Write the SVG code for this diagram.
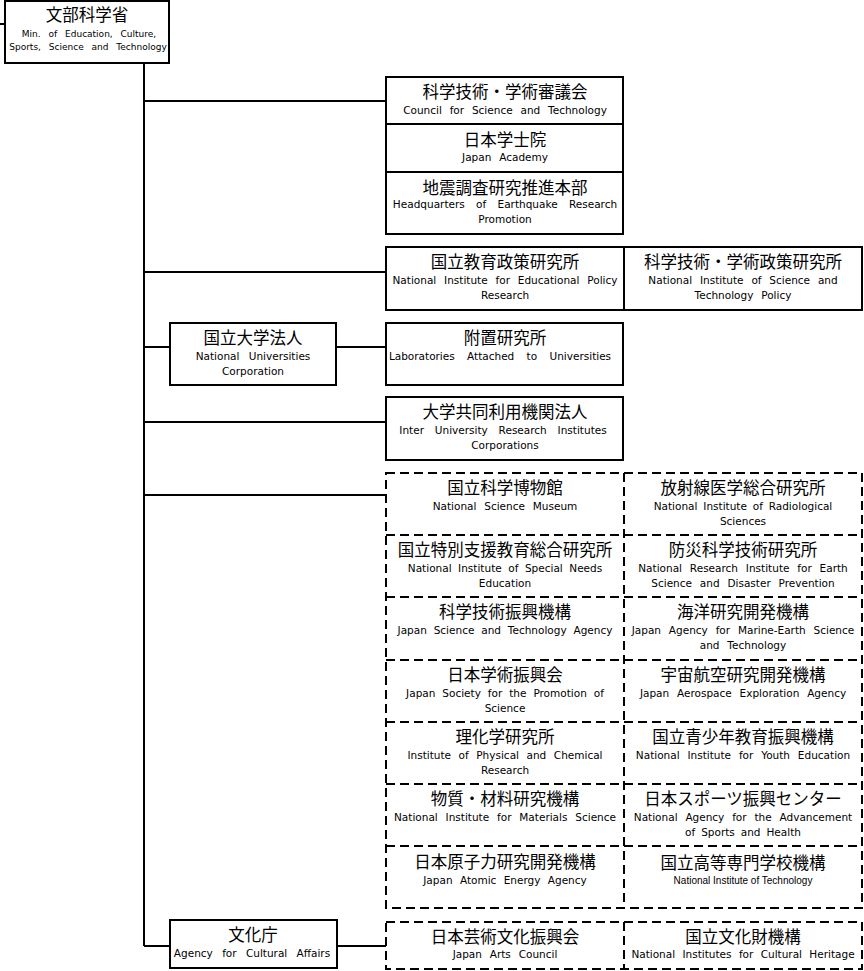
<svg xmlns="http://www.w3.org/2000/svg" width="864" height="971" viewBox="0 0 864 971">
<style>
.box{fill:#fff;stroke:#000;stroke-width:2}
.ln{fill:none;stroke:#000;stroke-width:2}
.dash{fill:none;stroke:#000;stroke-width:2;stroke-dasharray:9 5}
.t{font-family:"Noto Sans CJK JP","Noto Sans CJK SC",sans-serif;font-size:16.5px;text-anchor:middle;fill:#000}
.s{font-family:"DejaVu Sans","Liberation Sans",sans-serif;font-size:10.5px;text-anchor:middle;fill:#000;word-spacing:4.5px}
.s9{font-family:"DejaVu Sans","Liberation Sans",sans-serif;font-size:9px;text-anchor:middle;fill:#000;word-spacing:5px}
.sm{font-family:"Liberation Sans",Arial,sans-serif;font-size:10px;text-anchor:middle;fill:#000}
</style>
<rect width="864" height="971" fill="#fff"/>
<g id="connectors">
<path class="ln" d="M0,24H5"/>
<path class="ln" d="M144,63V946"/>
<path class="ln" d="M144,101H386"/>
<path class="ln" d="M144,272H386"/>
<path class="ln" d="M144,347H170M336,347H386"/>
<path class="ln" d="M144,422H386"/>
<path class="ln" d="M144,495H386"/>
<path class="ln" d="M144,946H170M337,946H386"/>
</g>
<g id="dashed-frame">
<rect class="dash" x="386" y="473" width="476" height="435"/>
<path class="dash" d="M386,535H862M386,597H862M386,660H862M386,722H862M386,784H862M386,846H862M624,473V908"/>
<rect class="dash" x="386" y="922" width="476" height="47"/>
<path class="dash" d="M624,922V969"/>
</g>
<g id="mext">
<rect class="box" x="5" y="1" width="164" height="62"/>
<text class="t" x="87" y="21">文部科学省</text>
<text class="s9" x="89" y="37">Min. of Education, Culture,</text>
<text class="s9" x="88" y="50">Sports, Science and Technology</text>
</g>
<g id="council">
<rect class="box" x="386" y="77" width="237" height="47"/>
<text class="t" x="505" y="98">科学技術・学術審議会</text>
<text class="s" x="505" y="114">Council for Science and Technology</text>
</g>
<g id="academy">
<rect class="box" x="386" y="124" width="237" height="48"/>
<text class="t" x="505" y="146">日本学士院</text>
<text class="s" x="505" y="161">Japan Academy</text>
</g>
<g id="earthquake">
<rect class="box" x="386" y="172" width="237" height="62"/>
<text class="t" x="505" y="194">地震調査研究推進本部</text>
<text class="s" x="505" y="208" style="word-spacing:8px">Headquarters of Earthquake Research</text>
<text class="s" x="505" y="223">Promotion</text>
</g>
<g id="nier">
<rect class="box" x="386" y="247" width="238" height="63"/>
<text class="t" x="505" y="268">国立教育政策研究所</text>
<text class="s" x="505" y="284">National Institute for Educational Policy</text>
<text class="s" x="505" y="299">Research</text>
</g>
<g id="nistep">
<rect class="box" x="624" y="247" width="238" height="63"/>
<text class="t" x="743" y="268">科学技術・学術政策研究所</text>
<text class="s" x="743" y="284">National Institute of Science and</text>
<text class="s" x="743" y="299">Technology Policy</text>
</g>
<g id="univ">
<rect class="box" x="170" y="323" width="166" height="62"/>
<text class="t" x="253" y="344">国立大学法人</text>
<text class="s" x="253" y="360" style="word-spacing:6px">National Universities</text>
<text class="s" x="253" y="375">Corporation</text>
</g>
<g id="labs">
<rect class="box" x="386" y="323" width="237" height="62"/>
<text class="t" x="505" y="344">附置研究所</text>
<text class="s" x="500" y="360" style="word-spacing:9px">Laboratories Attached to Universities</text>
</g>
<g id="inter">
<rect class="box" x="386" y="397" width="237" height="63"/>
<text class="t" x="505" y="418">大学共同利用機関法人</text>
<text class="s" x="503" y="434" style="word-spacing:7.5px">Inter University Research Institutes</text>
<text class="s" x="505" y="449">Corporations</text>
</g>
<g id="museum">
<text class="t" x="505" y="494">国立科学博物館</text>
<text class="s" x="505" y="510">National Science Museum</text>
</g>
<g id="nirs">
<text class="t" x="743" y="494">放射線医学総合研究所</text>
<text class="s" x="743" y="510" style="word-spacing:2.5px">National Institute of Radiological</text>
<text class="s" x="743" y="525">Sciences</text>
</g>
<g id="nise">
<text class="t" x="505" y="556">国立特別支援教育総合研究所</text>
<text class="s" x="505" y="572" style="word-spacing:3.2px">National Institute of Special Needs</text>
<text class="s" x="505" y="587">Education</text>
</g>
<g id="nied">
<text class="t" x="743" y="556">防災科学技術研究所</text>
<text class="s" x="743" y="572">National Research Institute for Earth</text>
<text class="s" x="743" y="587">Science and Disaster Prevention</text>
</g>
<g id="jst">
<text class="t" x="505" y="618">科学技術振興機構</text>
<text class="s" x="505" y="634" style="word-spacing:3.5px">Japan Science and Technology Agency</text>
</g>
<g id="jamstec">
<text class="t" x="743" y="618">海洋研究開発機構</text>
<text class="s" x="743" y="634">Japan Agency for Marine-Earth Science</text>
<text class="s" x="743" y="649">and Technology</text>
</g>
<g id="jsps">
<text class="t" x="505" y="681">日本学術振興会</text>
<text class="s" x="505" y="697" style="word-spacing:3.6px">Japan Society for the Promotion of</text>
<text class="s" x="505" y="712">Science</text>
</g>
<g id="jaxa">
<text class="t" x="743" y="681">宇宙航空研究開発機構</text>
<text class="s" x="743" y="697">Japan Aerospace Exploration Agency</text>
</g>
<g id="riken">
<text class="t" x="505" y="743">理化学研究所</text>
<text class="s" x="505" y="759" style="word-spacing:4.2px">Institute of Physical and Chemical</text>
<text class="s" x="505" y="774">Research</text>
</g>
<g id="niye">
<text class="t" x="743" y="743">国立青少年教育振興機構</text>
<text class="s" x="743" y="759">National Institute for Youth Education</text>
</g>
<g id="nims">
<text class="t" x="505" y="805">物質・材料研究機構</text>
<text class="s" x="505" y="821">National Institute for Materials Science</text>
</g>
<g id="jsc">
<text class="t" x="743" y="805">日本スポーツ振興センター</text>
<text class="s" x="743" y="821">National Agency for the Advancement</text>
<text class="s" x="743" y="836" style="word-spacing:2.6px">of Sports and Health</text>
</g>
<g id="jaea">
<text class="t" x="505" y="868">日本原子力研究開発機構</text>
<text class="s" x="505" y="884" style="word-spacing:4px">Japan Atomic Energy Agency</text>
</g>
<g id="kosen">
<text class="t" x="743" y="869">国立高等専門学校機構</text>
<text class="sm" x="743" y="884">National Institute of Technology</text>
</g>
<g id="bunka">
<rect class="box" x="170" y="920" width="167" height="48"/>
<text class="t" x="253" y="941">文化庁</text>
<text class="s" x="252" y="957" style="word-spacing:6px">Agency for Cultural Affairs</text>
</g>
<g id="ntj">
<text class="t" x="505" y="943">日本芸術文化振興会</text>
<text class="s" x="505" y="958">Japan Arts Council</text>
</g>
<g id="nich">
<text class="t" x="743" y="943">国立文化財機構</text>
<text class="s" x="743" y="958" style="word-spacing:4px">National Institutes for Cultural Heritage</text>
</g>
</svg>
